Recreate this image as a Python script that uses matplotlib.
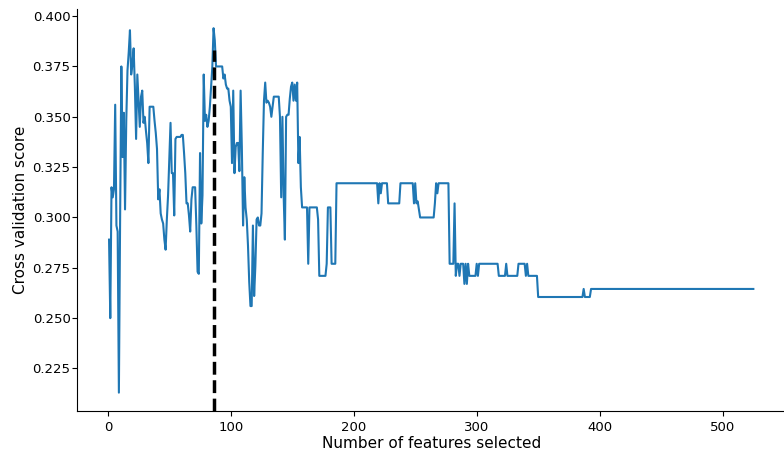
import numpy as np
import matplotlib
matplotlib.use("Agg")
import matplotlib.pyplot as plt

# cross validation score per number of features (1..186)
noisy_scores = [
    0.289, 0.250, 0.315, 0.310, 0.314, 0.356, 0.296, 0.293, 0.213, 0.299,
    0.375, 0.330, 0.352, 0.304, 0.348, 0.373, 0.382, 0.393, 0.371, 0.376,
    0.384, 0.365, 0.339, 0.371, 0.358, 0.345, 0.360, 0.363, 0.347, 0.350,
    0.343, 0.337, 0.327, 0.355, 0.355, 0.355, 0.355, 0.348, 0.342, 0.334,
    0.309, 0.314, 0.302, 0.299, 0.297, 0.289, 0.284, 0.299, 0.311, 0.329,
    0.347, 0.322, 0.322, 0.301, 0.339, 0.340, 0.340, 0.340, 0.340, 0.341,
    0.341, 0.332, 0.322, 0.307, 0.307, 0.301, 0.293, 0.309, 0.315, 0.315,
    0.315, 0.296, 0.273, 0.272, 0.332, 0.297, 0.311, 0.371, 0.348, 0.351,
    0.345, 0.348, 0.355, 0.365, 0.375, 0.394, 0.388, 0.375, 0.375, 0.375,
    0.375, 0.375, 0.375, 0.369, 0.371, 0.366, 0.364, 0.364, 0.358, 0.355,
    0.327, 0.363, 0.322, 0.335, 0.337, 0.337, 0.323, 0.363, 0.335, 0.296,
    0.320, 0.305, 0.299, 0.286, 0.268, 0.256, 0.256, 0.296, 0.261, 0.276,
    0.299, 0.300, 0.296, 0.296, 0.302, 0.332, 0.358, 0.367, 0.357, 0.358,
    0.357, 0.355, 0.350, 0.355, 0.360, 0.360, 0.360, 0.360, 0.360, 0.350,
    0.310, 0.350, 0.311, 0.289, 0.350, 0.351, 0.351, 0.359, 0.365, 0.367,
    0.358, 0.366, 0.358, 0.367, 0.327, 0.340, 0.315, 0.305, 0.305, 0.305,
    0.305, 0.305, 0.277, 0.305, 0.305, 0.305, 0.305, 0.305, 0.305, 0.305,
    0.299, 0.271, 0.271, 0.271, 0.271, 0.271, 0.271, 0.277, 0.305, 0.305,
    0.305, 0.277, 0.277, 0.277, 0.277, 0.317,
]

# flat stretches after that: score and how many features it lasts
plateau_scores = [
    0.317, 0.307, 0.317, 0.312, 0.317, 0.307, 0.317, 0.307, 0.317, 0.307,
    0.308, 0.304, 0.300, 0.307, 0.317, 0.312, 0.317, 0.277, 0.307, 0.271,
    0.277, 0.271, 0.277, 0.267, 0.277, 0.267, 0.277, 0.271, 0.277, 0.271,
    0.277, 0.271, 0.277, 0.271, 0.277, 0.271, 0.277, 0.271, 0.2605, 0.2645,
    0.2605, 0.2645,
]
plateau_lengths = [
    33, 1, 1, 1, 5, 10, 11, 1, 1, 1,
    1, 1, 12, 1, 1, 1, 9, 4, 1, 1,
    2, 1, 3, 1, 1, 1, 1, 6, 1, 1,
    16, 6, 1, 9, 6, 1, 1, 8, 37, 1,
    5, 133,
]

best_n = 86
best_mark = 0.383

scores = np.concatenate([noisy_scores, np.repeat(plateau_scores, plateau_lengths)])
n_features = np.arange(1, len(scores) + 1)

fig = plt.figure(figsize=(7.84, 4.53), dpi=100)
ax = fig.add_axes([0.098, 0.093, 0.904, 0.887])
ax.plot(n_features, scores, color="#1f77b4", lw=1.5)
ymin = ax.get_ylim()[0]
ax.vlines(best_n, ymin, best_mark, colors="black", linestyles="--", lw=2.5)
ax.set_ylim(bottom=ymin)

ax.tick_params(labelsize=9.5)
ax.tick_params(axis="y", pad=1)
ax.set_xlabel("Number of features selected", fontsize=11, labelpad=2)
ax.set_ylabel("Cross validation score", fontsize=11, labelpad=3)
ax.spines["top"].set_visible(False)
ax.spines["right"].set_visible(False)

fig.savefig("out.png", dpi=100)
